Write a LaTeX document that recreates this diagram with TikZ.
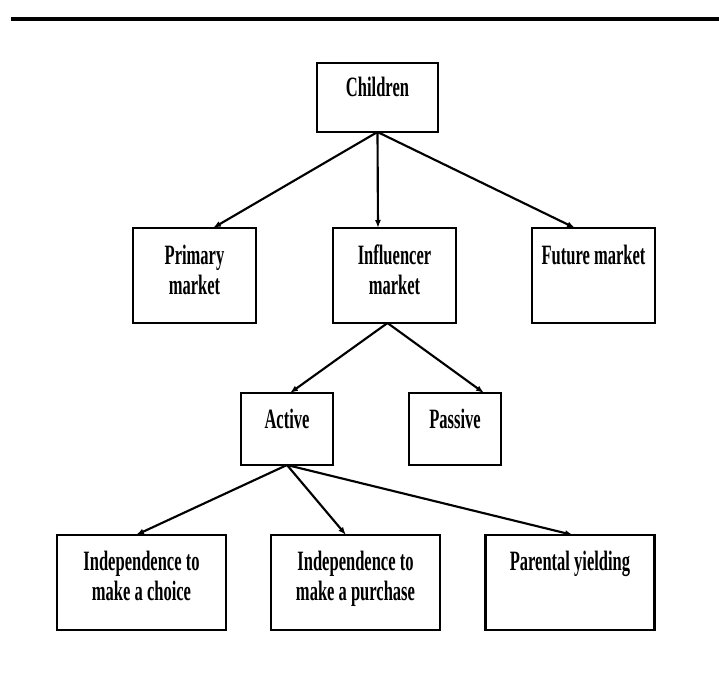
\documentclass[tikz,border=0pt]{standalone}
\usepackage{fontspec}
\setmainfont{Liberation Serif}[FakeStretch=0.59]
\usetikzlibrary{arrows.meta,calc}
\begin{document}
\begin{tikzpicture}[x=0.75pt,y=0.75pt,
  box/.style={draw, rectangle, line width=2pt, inner sep=0pt, outer sep=0pt},
  smallbox/.style={box, minimum width=90.75pt, minimum height=51.75pt},
  midbox/.style={box, minimum width=92.25pt, minimum height=71.25pt},
  actbox/.style={box, minimum width=69pt, minimum height=54pt},
  widebox/.style={box, minimum width=126.75pt, minimum height=71.25pt},
  lbl/.style={anchor=base, inner sep=0pt, font=\fontsize{21}{22.5}\selectfont\bfseries},
  arr/.style={-{Latex[length=6pt,width=4.5pt]}, line width=1.6pt}
]
\useasboundingbox (0,0) rectangle (719,-675);
% top rule
\coordinate (ruleL) at (11,-19);
\coordinate (ruleR) at (719,-19);
\draw[line width=2.5pt] (ruleL) -- (ruleR);

% boxes
\node[smallbox] (ch) at (377.5,-97.5) {};
\node[midbox] (pm) at (194.5,-275.5) {};
\node[midbox] (im) at (394.5,-275.5) {};
\node[midbox] (fm) at (593.5,-275.5) {};
\node[actbox] (act) at (287,-429) {};
\node[actbox] (pas) at (455,-429) {};
\node[widebox] (ic) at (141.5,-582.5) {};
\node[widebox] (ip) at (355.5,-582.5) {};
\node[widebox] (py) at (570,-582.5) {};

% labels
\node[lbl] (tch) at ($(ch.north)+(0,-33)$) {Children};
\node[lbl] (tpm) at ($(pm.north)+(0,-36)$) {\begin{tabular}[t]{@{}c@{}}Primary\\market\end{tabular}};
\node[lbl] (tim) at ($(im.north)+(0,-36)$) {\begin{tabular}[t]{@{}c@{}}Influencer\\market\end{tabular}};
\node[lbl] (tfm) at ($(fm.north)+(0,-36)$) {Future market};
\node[lbl] (tact) at ($(act.north)+(0,-35)$) {Active};
\node[lbl] (tpas) at ($(pas.north)+(0,-35)$) {Passive};
\node[lbl] (tic) at ($(ic.north)+(0,-35)$) {\begin{tabular}[t]{@{}c@{}}Independence to\\make a choice\end{tabular}};
\node[lbl] (tip) at ($(ip.north)+(0,-35)$) {\begin{tabular}[t]{@{}c@{}}Independence to\\make a purchase\end{tabular}};
\node[lbl] (tpy) at ($(py.north)+(0,-35)$) {Parental yielding};

% connectors
\draw[arr] (ch.south) -- ($(pm.north)+(18.5,0)$);
\draw[arr] (ch.south) -- ($(im.north)+(-16.5,0)$);
\draw[arr] (ch.south) -- ($(fm.north)+(-18.5,0)$);
\draw[arr] ($(im.south)+(-7,0)$) -- ($(act.north)+(3,0)$);
\draw[arr] ($(im.south)+(-7,0)$) -- ($(pas.north)+(29,0)$);
\draw[arr] (act.south) -- ($(ic.north)+(-5.5,0)$);
\draw[arr] (act.south) -- ($(ip.north)+(-9.5,0)$);
\draw[arr] (act.south) -- ($(py.north)+(3,0)$);
\end{tikzpicture}
\end{document}
